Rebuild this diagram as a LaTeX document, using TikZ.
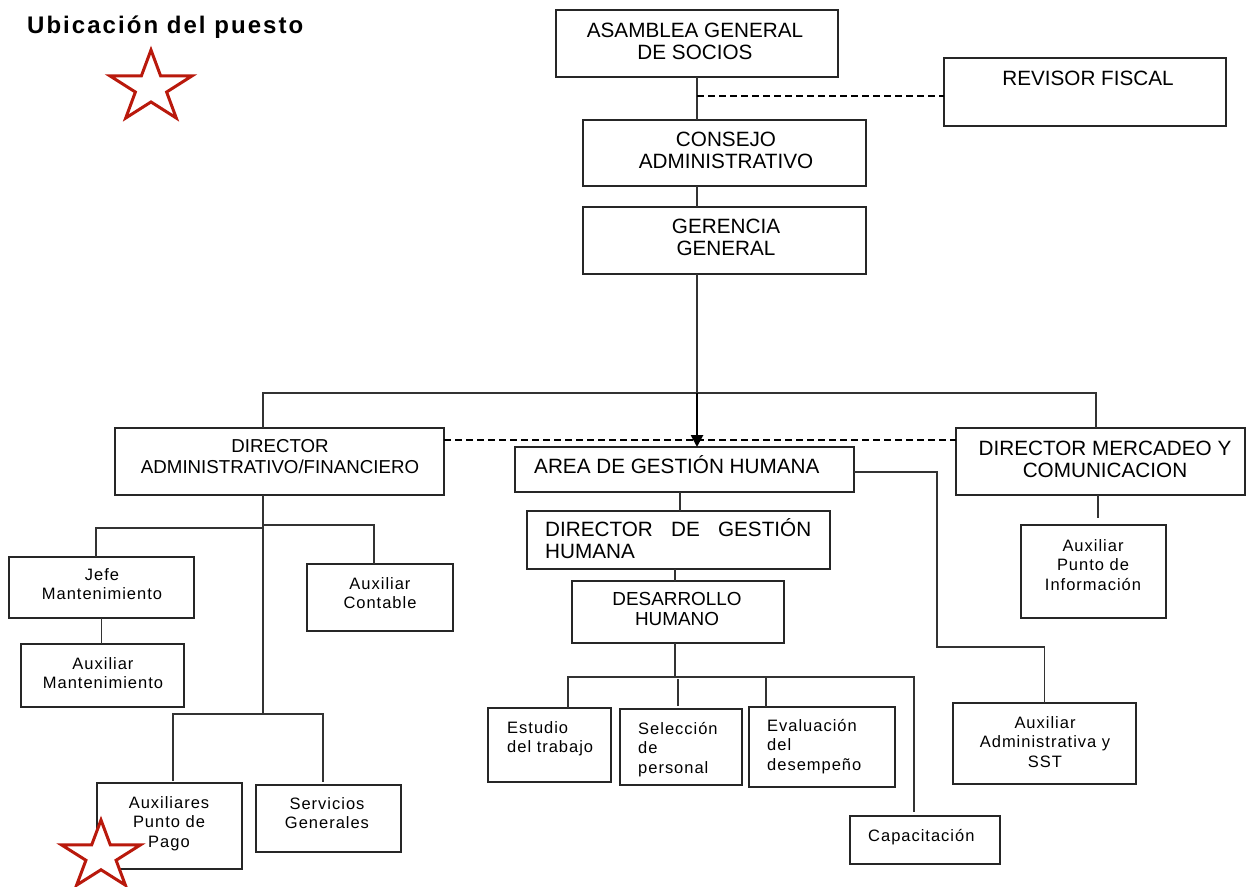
\documentclass[tikz,border=0pt]{standalone}
\usepackage{fontspec}
\setmainfont{Liberation Sans}
\newfontfamily\capf{Liberation Sans}
\newfontfamily\lowf[LetterSpace=6]{Liberation Sans}
\newfontfamily\titf[LetterSpace=8.5]{Liberation Sans}
\usetikzlibrary{arrows.meta}
\definecolor{starred}{RGB}{185,25,12}
\newcommand\mkbox[5]{\node[box, minimum width={(#4-#2)*1pt}, minimum height={(#5-#3)*1pt}] (#1) at ({(#2+#4)/2},{(#3+#5)/2}) {};}
\newcommand\drawstar[4]{\draw[starline] (#1,{#2-#4}) \foreach \k in {0,...,4} { -- ({#1+0.382*#3*cos(126+72*\k)},{#2-0.382*#4*sin(126+72*\k)}) -- ({#1+#3*cos(162+72*\k)},{#2-#4*sin(162+72*\k)}) } -- cycle;}
\begin{document}
\begin{tikzpicture}[x=1pt,y=-1pt,
  box/.style={draw=black!85, line width=1.1pt, rectangle, inner sep=0pt, outer sep=0pt},
  conn/.style={draw=black!80, line width=1.1pt},
  dashline/.style={draw=black, line width=2pt, dash pattern=on 7pt off 4pt},
  bigcap/.style={font=\capf\fontsize{20.7}{22}\selectfont, inner sep=0pt, align=center},
  midcap/.style={font=\capf\fontsize{18.9}{19.5}\selectfont, inner sep=0pt, align=center},
  dadmfont/.style={font=\capf\fontsize{18.7}{21}\selectfont, inner sep=0pt, align=center},
  low/.style={font=\lowf\fontsize{16.5}{19.5}\selectfont, inner sep=0pt, align=center},
  lowl/.style={low, align=left},
  starline/.style={draw=starred, fill=white, line width=3pt, line join=miter},
  bigarrow/.style={draw=black, line width=2.6pt, -{Triangle[length=12pt,width=12pt]}}
]
\useasboundingbox (0,0) rectangle (1246,886);

% boxes
\mkbox{asam}{556}{10}{838}{77}
\mkbox{rev}{944}{58}{1226}{126}
\mkbox{cons}{583}{120}{866}{186}
\mkbox{ger}{583}{207}{866}{274}
\mkbox{dadm}{115}{428}{444}{495}
\mkbox{area}{515}{447}{854}{492}
\mkbox{dmer}{956}{428}{1245}{495}
\mkbox{dgh}{527}{511}{830}{569}
\mkbox{des}{572}{581}{784}{643}
\mkbox{jefe}{9}{557}{194}{618}
\mkbox{auxm}{21}{644}{184}{707}
\mkbox{auxc}{307}{564}{453}{631}
\mkbox{appago}{97}{783}{242}{869}
\mkbox{serv}{256}{785}{401}{852}
\mkbox{est}{488}{708}{611}{782}
\mkbox{sel}{620}{709}{742}{785}
\mkbox{eval}{749}{707}{895}{787}
\mkbox{cap}{850}{816}{1000}{864}
\mkbox{api}{1021}{525}{1166}{618}
\mkbox{aadm}{953}{703}{1136}{784}

% texts
\node[anchor=base west, font=\titf\bfseries\fontsize{24}{28}\selectfont, inner sep=0pt] (title) at (27,33) {Ubicación del puesto};
\node[bigcap, anchor=north] (tAsam) at (695,22.6) {ASAMBLEA GENERAL\\DE SOCIOS};
\node[bigcap, anchor=north] (tRev) at (1088,70.6) {REVISOR FISCAL};
\node[bigcap, anchor=north] (tCons) at (726,131.6) {CONSEJO\\ADMINISTRATIVO};
\node[bigcap, anchor=north] (tGer) at (726,218.6) {GERENCIA\\GENERAL};
\node[dadmfont, anchor=north] (tDadm) at (280,439.3) {DIRECTOR\\ADMINISTRATIVO/FINANCIERO};
\node[bigcap, anchor=base west] (tArea) at (534,473.4) {AREA DE GESTIÓN HUMANA};
\node[bigcap, anchor=north] (tDmer) at (1105,440.6) {DIRECTOR MERCADEO Y\\COMUNICACION};
\node[bigcap, anchor=north west, align=left] (tDgh) at (545,518.2) {\makebox[266pt][s]{DIRECTOR DE GESTIÓN}\\HUMANA};
\node[midcap, anchor=north] (tDes) at (677,592.2) {DESARROLLO\\HUMANO};
\node[low, anchor=north] (tJefe) at (102,568) {Jefe\\Mantenimiento};
\node[low, anchor=north] (tAuxm) at (103,657) {Auxiliar\\Mantenimiento};
\node[low, anchor=north] (tAuxc) at (380,577) {Auxiliar\\Contable};
\node[low, anchor=north] (tPago) at (169,796) {Auxiliares\\Punto de\\Pago};
\node[low, anchor=north] (tServ) at (327,797) {Servicios\\Generales};
\node[lowl, anchor=north west] (tEst) at (507,721) {Estudio\\del trabajo};
\node[lowl, anchor=north west] (tSel) at (638,722) {Selección\\de\\personal};
\node[lowl, anchor=north west] (tEval) at (767,719) {Evaluación\\del\\desempeño};
\node[low, anchor=base west] (tCap) at (868,841) {Capacitación};
\node[low, anchor=north] (tApi) at (1093,539) {Auxiliar\\Punto de\\Información};
\node[low, anchor=north] (tAadm) at (1045,716) {Auxiliar\\Administrativa y\\SST};

% coordinates
\coordinate (hub) at (697,393);
\coordinate (hl) at (263,393);
\coordinate (hr) at (1096,393);
\coordinate (rf) at ([yshift=-4pt]rev.west);
\coordinate (xg) at (680,0);
\coordinate (xd) at (675,0);
\coordinate (dh) at (675,677);
\coordinate (b1) at (568,677);
\coordinate (b4) at (914,677);
\coordinate (xs) at (678,679);
\coordinate (xe) at (766,0);
\coordinate (r2) at (937,647);
\coordinate (apiTop) at (1098,518);
\coordinate (xl) at (263,0);
\coordinate (ld) at (263,714);
\coordinate (lj) at (96,528);
\coordinate (lc) at (374,525);
\coordinate (p1) at (173,714);
\coordinate (p2) at (323,714);

% connectors
\draw[conn] (asam.south) -- (asam.south |- cons.north);
\draw[conn] (asam.south |- cons.south) -- (asam.south |- ger.north);
\draw[conn] (ger.south -| hub) -- (hub);
\draw[conn] (hl |- dadm.north) -- (hl) -- (hr) -- (hr |- dmer.north);
\draw[bigarrow] (hub) -- (hub |- area.north);
\draw[dashline] (asam.south |- rf) -- (rf);
\draw[dashline] ([yshift=-12pt]dadm.north east) -- ([yshift=-12pt]dmer.north west);

\draw[conn] (xg |- area.south) -- (xg |- dgh.north);
\draw[conn] (xd |- dgh.south) -- (xd |- des.north);
\draw[conn] (xd |- des.south) -- (dh);
\draw[conn] (b1 |- est.north) -- (b1) -- (b4) -- ([yshift=4pt]b4 |- cap.north);
\draw[conn] (xs) -- ([yshift=3pt]xs |- sel.north);
\draw[conn] (xe |- dh) -- (xe |- eval.north);

\draw[conn] ([yshift=-25pt]area.north east) -| (r2) -| (aadm.north);
\draw[conn] (apiTop |- dmer.south) -- (apiTop);

\draw[conn] (xl |- dadm.south) -- (ld);
\draw[conn] (lj |- jefe.north) -- (lj) -- (lj -| xl);
\draw[conn] (lc -| xl) -- (lc) -- (lc |- auxc.north);
\draw[conn] (jefe.south) -- (jefe.south |- auxm.north);
\draw[conn] ([yshift=2pt]p1 |- appago.north) -- (p1) -- (p2) -- ([yshift=3pt]p2 |- serv.north);

% stars
\drawstar{151}{87.6}{43}{37.6}
\drawstar{101}{856}{41.5}{36}
\end{tikzpicture}
\end{document}
